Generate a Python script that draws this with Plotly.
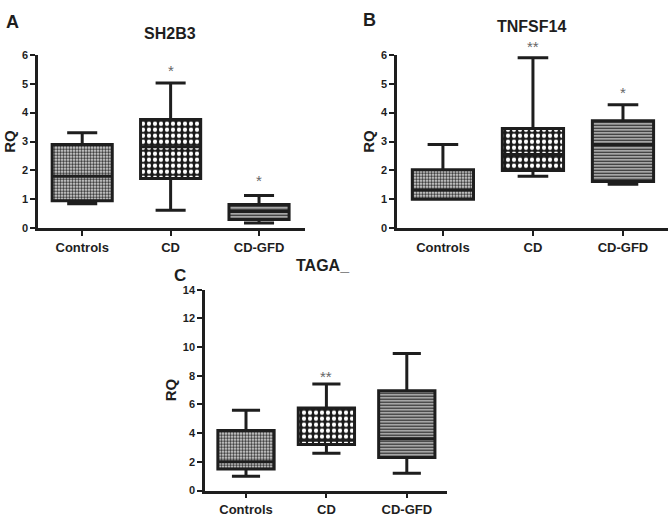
import plotly.graph_objects as go

categories = ["Controls", "CD", "CD-GFD"]
x_idx = [0, 1, 2]

# Panel A - SH2B3
a_low = [0.85, 0.62, 0.18]
a_q1 = [0.95, 1.72, 0.30]
a_med = [1.80, 2.82, 0.58]
a_q3 = [2.90, 3.76, 0.82]
a_high = [3.30, 5.02, 1.13]
a_star = ["", "*", "*"]
a_star_y = [0, 5.45, 1.65]

# Panel B - TNFSF14
b_low = [1.00, 1.80, 1.52]
b_q1 = [1.00, 2.00, 1.62]
b_med = [1.32, 2.55, 2.90]
b_q3 = [2.02, 3.45, 3.72]
b_high = [2.90, 5.90, 4.27]
b_star = ["", "**", "*"]
b_star_y = [0, 6.3, 4.7]

# Panel C - TAGAP
c_low = [1.00, 2.60, 1.20]
c_q1 = [1.50, 3.20, 2.30]
c_med = [2.00, 3.50, 3.60]
c_q3 = [4.18, 5.75, 6.95]
c_high = [5.60, 7.42, 9.55]
c_star = ["", "**", ""]
c_star_y = [0, 7.95, 0]

pat_shape = [".", ".", "-"]
pat_size = [3, 6, 3]
pat_sol = [0.55, 0.4, 0.6]
pat_fg = ["#333333", "#ffffff", "#222222"]
pat_bg = ["#eeeeee", "#1a1a1a", "#ffffff"]

INK = "#1e1e1e"
FONT = "Liberation Sans, Arial, sans-serif"

fig = go.Figure()

panels = [
    (a_low, a_q1, a_med, a_q3, a_high, a_star, a_star_y, "x", "y", 0.68, 6),
    (b_low, b_q1, b_med, b_q3, b_high, b_star, b_star_y, "x2", "y2", 0.68, 6),
    (c_low, c_q1, c_med, c_q3, c_high, c_star, c_star_y, "x3", "y3", 0.70, 14),
]

for low, q1, med, q3, high, star, star_y, xa, ya, w, ymax in panels:
    fig.add_trace(go.Bar(
        x=x_idx, base=q1, y=[b - a for a, b in zip(q1, q3)], width=w,
        marker=dict(color="white", line=dict(width=0),
                    pattern=dict(shape=pat_shape, size=pat_size, solidity=pat_sol,
                                 fgcolor=pat_fg, bgcolor=pat_bg, fillmode="replace")),
        xaxis=xa, yaxis=ya, showlegend=False, hoverinfo="skip"))
    fig.add_trace(go.Box(
        x=x_idx, q1=q1, median=med, q3=q3, lowerfence=low, upperfence=high,
        width=w, whiskerwidth=0.5, fillcolor="rgba(0,0,0,0)",
        line=dict(color=INK, width=3), boxpoints=False,
        xaxis=xa, yaxis=ya, showlegend=False, hoverinfo="skip"))
    for xi, s, sy in zip(x_idx, star, star_y):
        if s:
            fig.add_annotation(x=xi, y=sy / ymax, xref=xa, yref=ya + " domain", text=s,
                               showarrow=False, xanchor="center", yanchor="middle",
                               font=dict(family=FONT, size=15, color="#666666"))

axis_common = dict(
    showline=True, linecolor=INK, linewidth=2.5, ticks="outside", ticklen=5,
    tickwidth=2, tickcolor=INK, showgrid=False, zeroline=False,
)

def xax(domain, rng, anchor):
    return dict(axis_common, domain=domain, range=rng, tickmode="array",
                tickvals=x_idx, ticktext=categories, anchor=anchor,
                tickfont=dict(family=FONT, size=13, color=INK, weight="bold"))

def yax(domain, rng, dtick, anchor):
    return dict(axis_common, domain=domain, range=rng, dtick=dtick, anchor=anchor,
                tickfont=dict(family=FONT, size=11, color=INK, weight="bold"),
                title=dict(text="RQ", font=dict(family=FONT, size=15, color=INK, weight="bold"),
                           standoff=3))

W, H = 672, 517
fig.update_layout(
    width=W, height=H, margin=dict(l=0, r=0, t=0, b=0),
    paper_bgcolor="white", plot_bgcolor="white",
    barmode="overlay", boxmode="overlay",
    xaxis=xax([38 / W, 305 / W], [-0.5, 2.52], "y"),
    yaxis=yax([1 - 228 / H, 1 - 50 / H], [0, 6], 1, "x"),
    xaxis2=xax([397 / W, 668 / W], [-0.51, 2.5], "y2"),
    yaxis2=yax([1 - 228 / H, 1 - 50 / H], [0, 6], 1, "x2"),
    xaxis3=xax([205 / W, 447 / W], [-0.51, 2.5], "y3"),
    yaxis3=yax([1 - 497 / H, 1 - 291 / H], [0, 14], 2, "x3"),
    font=dict(family=FONT, color=INK),
)

def label(text, x, y, size):
    fig.add_annotation(text="<b>%s</b>" % text, x=x / W, y=1 - y / H, xref="paper",
                       yref="paper", showarrow=False, xanchor="center", yanchor="middle",
                       font=dict(family=FONT, size=size, color=INK))

label("A", 12, 16, 18)
label("SH2B3", 170, 28, 16)
label("B", 369, 14, 18)
label("TNFSF14", 531, 21, 16)
label("C", 180, 276, 17)
label("TAGA_", 323, 266, 16)

fig.write_html("out.html")
